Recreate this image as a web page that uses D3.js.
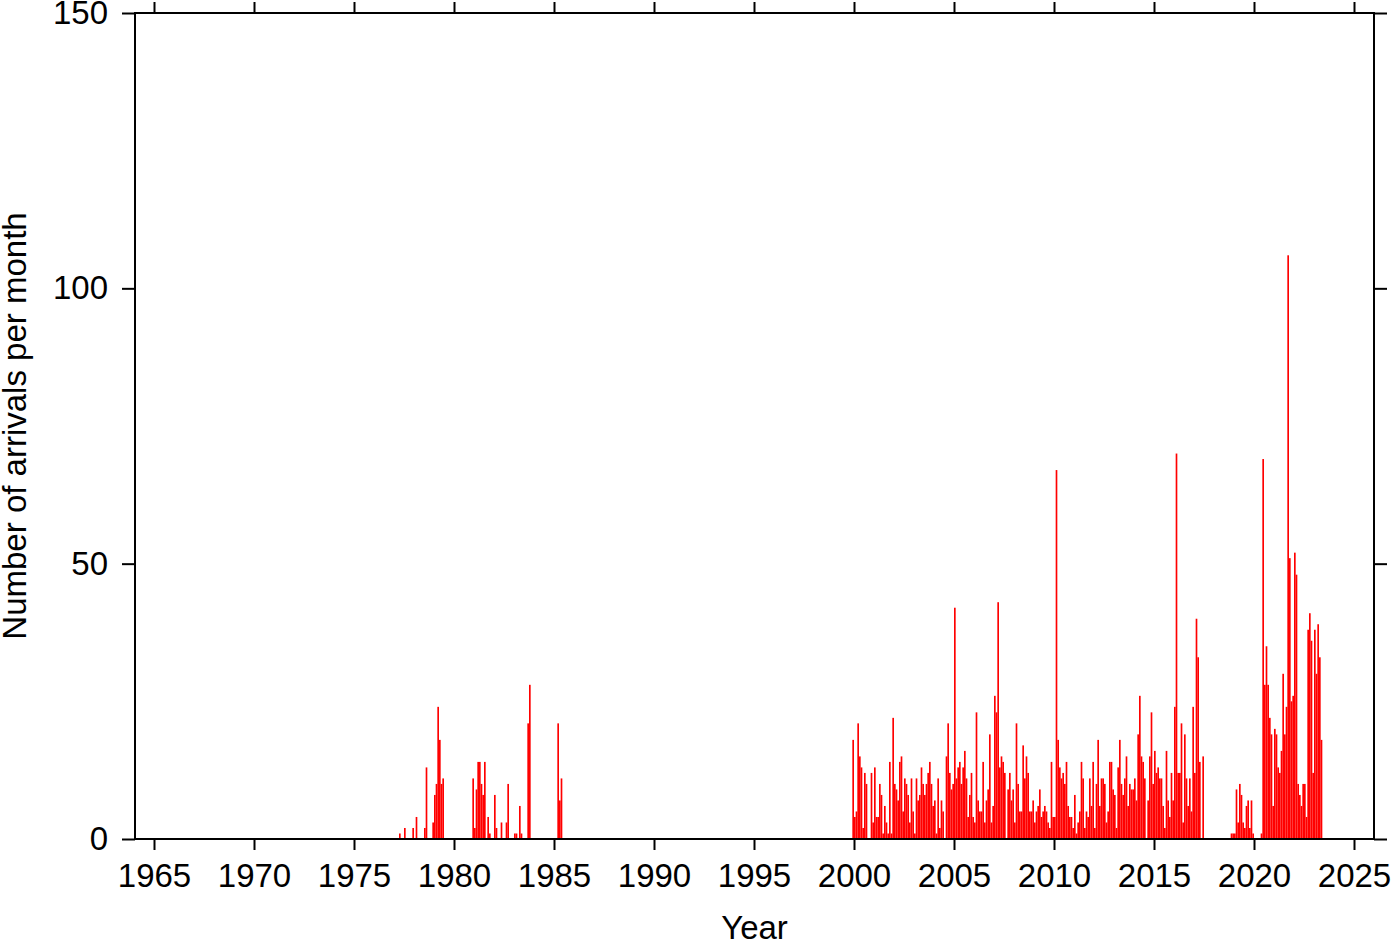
<!DOCTYPE html>
<html>
<head>
<meta charset="utf-8">
<script src="https://cdn.jsdelivr.net/npm/d3@7"></script>
<style>
  html, body { margin: 0; padding: 0; background: #fff; }
  svg { display: block; }
  text { font-family: "Liberation Sans", Arial, Helvetica, sans-serif; fill: #000; }
</style>
</head>
<body>
<svg id="chart" width="1400" height="942"></svg>
<script>
// ---- Data: monthly arrival counts (Jan..Dec) for each year with activity ----
const years = [1977, 1978, 1979, 1980, 1981, 1982, 1983, 1985,
               1999, 2000, 2001, 2002, 2003, 2004, 2005, 2006, 2007, 2008,
               2009, 2010, 2011, 2012, 2013, 2014, 2015, 2016, 2017, 2018,
               2019, 2020, 2021, 2022, 2023];
const monthlyCounts = [
  [0,0,0,1,0,0,2,0,0,0,0,2],          // 1977
  [0,4,0,0,0,0,2,13,0,0,0,3],         // 1978
  [8,10,24,18,10,11,0,0,0,0,0,0],     // 1979
  [0,0,0,0,0,0,0,0,0,0,0,11],         // 1980
  [2,9,14,14,10,8,14,0,4,1,0,0],      // 1981
  [8,2,0,0,3,0,0,3,10,0,0,0],         // 1982
  [1,1,0,6,1,0,0,0,21,28,0,0],        // 1983
  [0,0,21,7,11,0,0,0,0,0,0,0],        // 1985
  [0,0,0,0,0,0,0,0,0,0,0,18],         // 1999
  [4,5,21,15,13,2,12,10,0,0,12,3],    // 2000
  [13,4,4,10,8,1,6,3,1,14,1,22],      // 2001
  [10,9,7,14,15,5,11,10,8,3,11,5],    // 2002
  [1,11,7,8,13,10,8,10,12,14,10,6],   // 2003
  [7,1,11,2,7,5,0,15,21,12,9,10],     // 2004
  [42,11,13,14,10,13,16,11,4,8,12,4], // 2005
  [3,23,7,5,5,14,3,7,9,19,3,6],       // 2006
  [26,23,43,13,15,14,12,0,9,12,7,9],  // 2007
  [3,21,10,5,5,17,11,15,12,5,5,7],    // 2008
  [3,5,6,9,4,5,6,5,3,2,14,4],         // 2009
  [4,67,18,13,11,12,10,14,6,4,4,2],   // 2010
  [8,1,3,5,14,11,2,5,4,11,6,14],      // 2011
  [2,10,18,6,11,11,10,3,5,14,14,9],   // 2012
  [8,2,13,18,10,8,11,15,6,10,9,9],    // 2013
  [11,7,19,26,15,14,11,0,7,15,23,10], // 2014
  [16,12,13,11,11,6,2,16,7,4,12,7],   // 2015
  [24,70,12,12,21,3,19,11,6,11,5,24], // 2016
  [12,40,33,14,0,15,0,0,0,0,0,0],     // 2017
  [0,0,0,0,0,0,0,0,0,0,1,1],          // 2018
  [1,9,3,10,8,3,2,6,7,2,7,1],         // 2019
  [0,0,0,0,1,69,28,35,28,22,19,6],    // 2020
  [20,19,13,12,16,30,19,24,106,51,25,26], // 2021
  [52,48,10,8,6,10,10,4,38,41,36,12], // 2022
  [38,30,39,33,18,0,0,0,0,0,0,0]      // 2023
];
const xTickYears = [1965, 1970, 1975, 1980, 1985, 1990, 1995, 2000, 2005, 2010, 2015, 2020, 2025];
const yTickValues = [0, 50, 100, 150];
const xDomain = [1964.05, 2026];
const yDomain = [0, 150];
const xTitle = "Year";
const yTitle = "Number of arrivals per month";

(function () {
  // ---- Build flat monthly records ----
  const records = [];
  years.forEach((yr, i) => {
    monthlyCounts[i].forEach((c, m) => {
      if (c > 0) records.push({ t0: yr + m / 12, t1: yr + (m + 1) / 12, count: c });
    });
  });

  // ---- Layout ----
  const svg = d3.select("#chart");
  const pL = 135, pR = 1374, pT = 13, pB = 839;
  const x = d3.scaleLinear().domain(xDomain).range([pL, pR]);
  const y = d3.scaleLinear().domain(yDomain).range([pB, pT]);

  // Bars
  svg.append("g")
    .selectAll("rect")
    .data(records)
    .join("rect")
    .attr("x", d => x(d.t0))
    .attr("width", d => x(d.t1) - x(d.t0))
    .attr("y", d => y(d.count))
    .attr("height", d => y(0) - y(d.count))
    .attr("fill", "#ff0000");

  const fontSize = 33;
  const tickLen = 11;
  const ff = '"Liberation Sans", Arial, sans-serif';

  // Bottom axis
  const gx = svg.append("g")
    .attr("transform", `translate(0,${pB})`)
    .call(d3.axisBottom(x).tickValues(xTickYears).tickFormat(d3.format("d"))
          .tickSize(tickLen).tickPadding(14).tickSizeOuter(0));
  gx.select(".domain").remove();
  gx.selectAll(".tick line").attr("stroke", "#000").attr("stroke-width", 2);
  gx.selectAll(".tick text").style("font-size", fontSize + "px")
    .style("font-family", ff).attr("fill", "#000");

  // Top axis (ticks only)
  const gt = svg.append("g")
    .attr("transform", `translate(0,${pT})`)
    .call(d3.axisTop(x).tickValues(xTickYears).tickFormat("").tickSize(tickLen).tickSizeOuter(0));
  gt.select(".domain").remove();
  gt.selectAll(".tick line").attr("stroke", "#000").attr("stroke-width", 2);

  // Left axis
  const gy = svg.append("g")
    .attr("transform", `translate(${pL},0)`)
    .call(d3.axisLeft(y).tickValues(yTickValues).tickFormat(d3.format("d"))
          .tickSize(tickLen + 2).tickPadding(14).tickSizeOuter(0));
  gy.select(".domain").remove();
  gy.selectAll(".tick line").attr("stroke", "#000").attr("stroke-width", 2);
  gy.selectAll(".tick text").style("font-size", fontSize + "px")
    .style("font-family", ff).attr("fill", "#000");

  // Right axis (ticks only)
  const gr = svg.append("g")
    .attr("transform", `translate(${pR},0)`)
    .call(d3.axisRight(y).tickValues(yTickValues).tickFormat("").tickSize(tickLen + 2).tickSizeOuter(0));
  gr.select(".domain").remove();
  gr.selectAll(".tick line").attr("stroke", "#000").attr("stroke-width", 2);

  // Frame
  svg.append("rect")
    .attr("x", pL).attr("y", pT)
    .attr("width", pR - pL).attr("height", pB - pT)
    .attr("fill", "none").attr("stroke", "#000").attr("stroke-width", 2);

  // Axis titles
  svg.append("text")
    .attr("x", (pL + pR) / 2).attr("y", 939)
    .attr("text-anchor", "middle")
    .style("font-size", fontSize + "px")
    .text(xTitle);

  svg.append("text")
    .attr("transform", `translate(26,${(pT + pB) / 2}) rotate(-90)`)
    .attr("text-anchor", "middle")
    .style("font-size", fontSize + "px")
    .text(yTitle);
})();
</script>
</body>
</html>
